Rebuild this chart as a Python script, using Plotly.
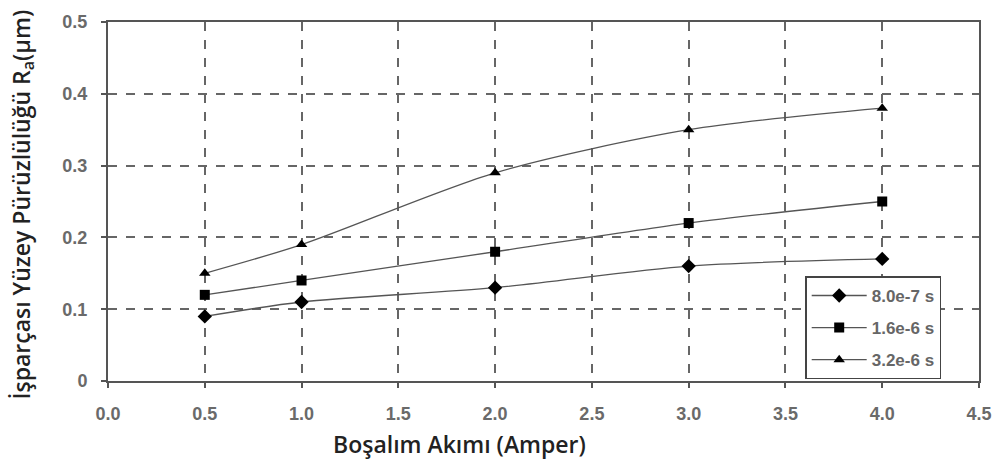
import plotly.graph_objects as go

current = [0.5, 1.0, 2.0, 3.0, 4.0]
s1_name = "8.0e-7 s"
s1 = [0.09, 0.11, 0.13, 0.16, 0.17]
s2_name = "1.6e-6 s"
s2 = [0.12, 0.14, 0.18, 0.22, 0.25]
s3_name = "3.2e-6 s"
s3 = [0.15, 0.19, 0.29, 0.35, 0.38]

x_ticks = [0, 0.5, 1.0, 1.5, 2.0, 2.5, 3.0, 3.5, 4.0, 4.5]
x_ticktext = ["0.0", "0.5", "1.0", "1.5", "2.0", "2.5", "3.0", "3.5", "4.0", "4.5"]
y_ticks = [0, 0.1, 0.2, 0.3, 0.4, 0.5]
y_ticktext = ["0", "0.1", "0.2", "0.3", "0.4", "0.5"]

fig = go.Figure()
for i, (name, ys, sym) in enumerate([(s1_name, s1, "diamond"), (s2_name, s2, "square"), (s3_name, s3, "triangle-up")]):
    fig.add_trace(go.Scatter(
        x=current, y=ys, name=name, mode="lines+markers", legendgroup=f"g{i}",
        line=dict(color="#555555", width=1.3, shape="spline", smoothing=0.8),
        marker=dict(symbol=sym, size=10 if sym != "diamond" else 11, color="black"),
    ))

axis_common = dict(
    showline=True, linecolor="#555555", linewidth=2, mirror=True,
    showgrid=True, gridcolor="#666666", gridwidth=1.5, griddash="dash",
    ticks="outside", ticklen=5, tickcolor="#555555", tickwidth=1.5,
    tickfont=dict(family="Liberation Sans, Arial", size=18, color="#6a6a6a", weight="bold"),
    ticklabelstandoff=10,
    zeroline=False,
)

fig.update_layout(
    width=1004, height=468,
    margin=dict(l=108, r=24, t=17, b=87),
    plot_bgcolor="white", paper_bgcolor="white",
    xaxis=dict(range=[0, 4.5], tickvals=x_ticks, ticktext=x_ticktext, **axis_common),
    yaxis=dict(range=[0, 0.5], tickvals=y_ticks, ticktext=y_ticktext, **axis_common),
    legend=dict(
        x=(806 - 108) / 872, y=(381 - 275) / 364, xanchor="left", yanchor="top",
        bordercolor="#444444", borderwidth=1.5, bgcolor="white",
        font=dict(family="Liberation Sans, Arial", size=17, color="#666666", weight="bold"),
        tracegroupgap=7, itemwidth=55,
    ),
    annotations=[
        dict(text="Boşalım Akımı (Amper)", xref="paper", yref="paper",
             x=(460 - 108) / 872, y=-(445 - 381) / 364, xanchor="center", yanchor="middle",
             showarrow=False,
             font=dict(family="Open Sans", size=23, color="#222222", weight=600)),
        dict(text="İşparçası Yüzey Pürüzlülüğü R<sub>a</sub>(μm)", xref="paper", yref="paper",
             x=-(108 - 22) / 872, y=(381 - 202) / 364, xanchor="center", yanchor="middle",
             textangle=-90, showarrow=False,
             font=dict(family="Open Sans", size=23, color="#222222", weight=600)),
    ],
)

fig.write_html("out.html")
